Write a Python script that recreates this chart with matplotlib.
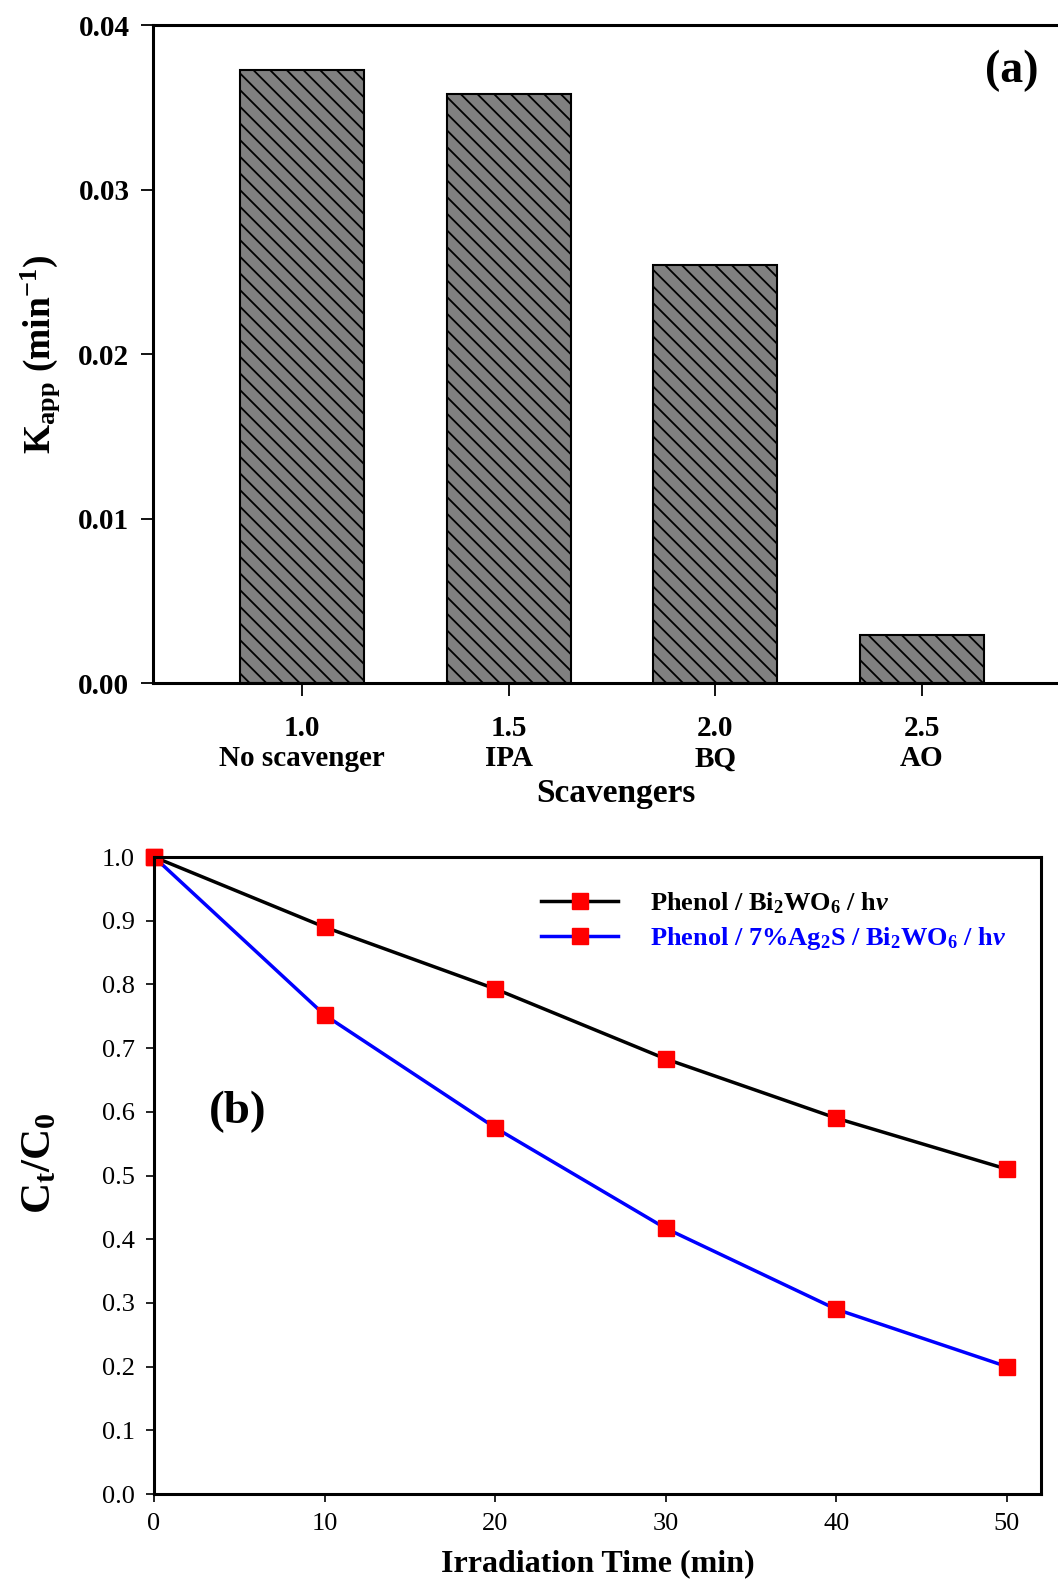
import numpy as np
from matplotlib import pyplot as plt

# panel (a): apparent rate constants with scavengers
scav_pos = [1.0, 1.5, 2.0, 2.5]
scav_names = ["No scavenger", "IPA", "BQ", "AO"]
kapp = [0.0373, 0.0358, 0.0254, 0.0029]

# panel (b): degradation curves
time_min = [0, 10, 20, 30, 40, 50]
ct_bi2wo6 = [1.0, 0.89, 0.793, 0.683, 0.59, 0.51]
ct_ag2s = [1.0, 0.752, 0.575, 0.417, 0.29, 0.20]

plt.rc("font", family="Liberation Serif")
plt.rc("mathtext", fontset="custom", rm="Liberation Serif:bold",
       it="Liberation Serif:italic:bold", bf="Liberation Serif:bold")
plt.rc("hatch", linewidth=1.3)

fig = plt.figure(figsize=(10.58, 15.85), dpi=100)

# ---- (a)
ax1 = fig.add_axes([0.1446, 0.569, 0.8754, 0.415])
ax1.bar(scav_pos, kapp, width=0.3, color="#808080", edgecolor="black",
        linewidth=1.5, hatch="\\\\")
ax1.set_xlim(0.64, 2.88)
ax1.set_ylim(0, 0.04)
ax1.set_yticks([0.0, 0.01, 0.02, 0.03, 0.04])
ax1.set_yticklabels([f"{v:.2f}" for v in [0.0, 0.01, 0.02, 0.03, 0.04]])
ax1.set_xticks(scav_pos)
ax1.set_xticklabels([f"{p:.1f}\n{n}" for p, n in zip(scav_pos, scav_names)],
                    linespacing=1.15)
for lab in ax1.get_xticklabels() + ax1.get_yticklabels():
    lab.set_fontweight("bold")
    lab.set_fontsize(21)
ax1.tick_params(direction="out", length=9, width=1.3, pad=14, axis="x")
ax1.tick_params(direction="out", length=9, width=1.3, pad=8, axis="y")
ax1.spines["right"].set_visible(False)
for s in ["left", "bottom", "top"]:
    ax1.spines[s].set_linewidth(2.2)
ax1.set_xlabel("Scavengers", fontsize=24, fontweight="bold", labelpad=4)
ax1.set_ylabel(r"K$_{\mathrm{app}}$ (min$^{-1}$)", fontsize=27,
               fontweight="bold")
ax1.yaxis.set_label_coords(-0.098, 0.5)
fig.text(1012 / 1058, 1 - 71 / 1585, "(a)", fontsize=33, fontweight="bold",
         ha="center", va="center")

# ---- (b)
ax2 = fig.add_axes([0.1456, 0.0574, 0.8384, 0.4019])
ax2.plot(time_min, ct_bi2wo6, color="black", lw=2.5, marker="s", ms=12,
         mfc="red", mec="red", clip_on=False,
         label=r"Phenol / Bi$_2$WO$_6$ / h$\mathit{\nu}$")
ax2.plot(time_min, ct_ag2s, color="blue", lw=2.5, marker="s", ms=12,
         mfc="red", mec="red", clip_on=False,
         label=r"Phenol / 7%Ag$_2$S / Bi$_2$WO$_6$ / h$\mathit{\nu}$")
ax2.set_xlim(0, 52)
ax2.set_ylim(0, 1.0)
ax2.set_xticks([0, 10, 20, 30, 40, 50])
ax2.set_yticks(np.arange(0, 1.01, 0.1))
ax2.set_yticklabels([f"{v:.1f}" for v in np.arange(0, 1.01, 0.1)])
ax2.tick_params(direction="out", length=6, width=1.2, labelsize=19, pad=8)
for s in ax2.spines.values():
    s.set_linewidth(2.2)
ax2.set_xlabel("Irradiation Time (min)", fontsize=23, fontweight="bold",
               labelpad=10)
ax2.set_ylabel(r"C$_{\mathrm{t}}$/C$_0$", fontsize=31, fontweight="bold")
ax2.yaxis.set_label_coords(-0.107, 0.52)
ax2.text(4.9, 0.6, "(b)", fontsize=34, fontweight="bold", ha="center",
         va="center")
leg = ax2.legend(loc="upper left", bbox_to_anchor=(0.41, 0.985),
                 frameon=False, handlelength=2.9,
                 prop={"weight": "bold", "size": 19},
                 labelspacing=0.35, handletextpad=1.2)
leg.get_texts()[1].set_color("blue")

fig.savefig("out.png", dpi=100)
